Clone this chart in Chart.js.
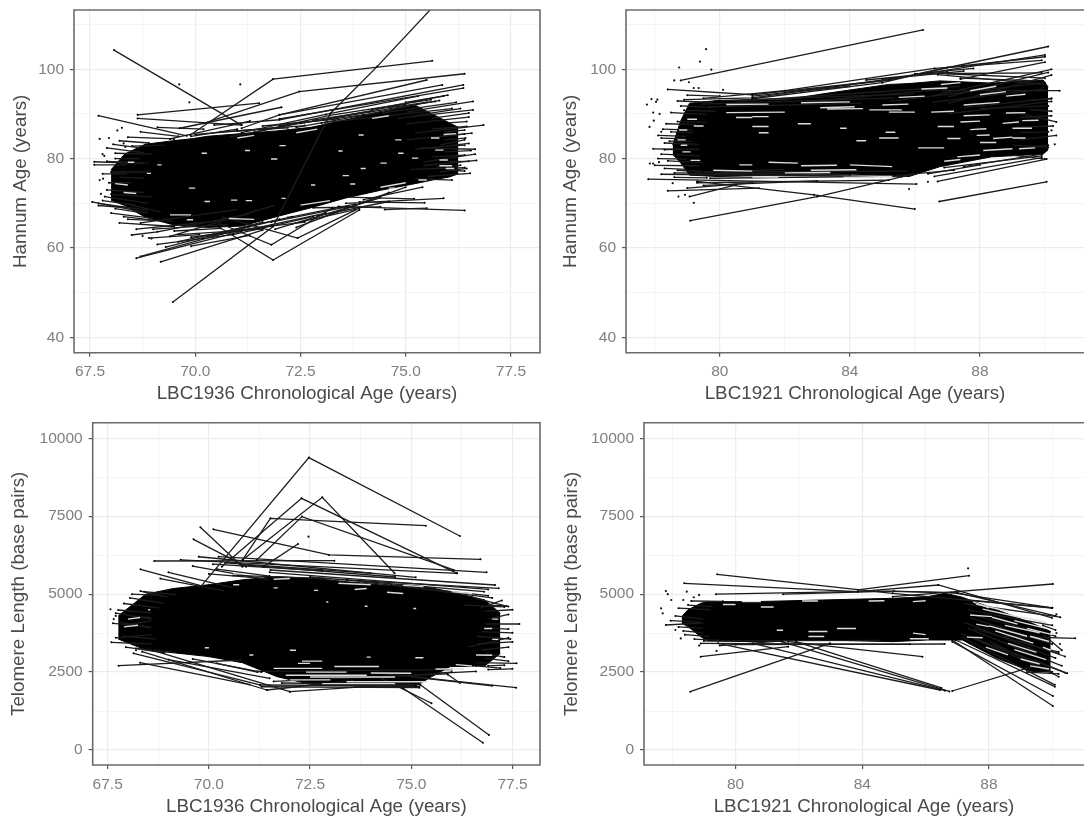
<!DOCTYPE html>
<html><head><meta charset="utf-8">
<script src="https://cdn.jsdelivr.net/npm/chart.js@4"></script>
<style>
html,body{margin:0;padding:0;background:#fff;width:1088px;height:820px;overflow:hidden}
canvas{position:absolute;filter:blur(0.5px)}
</style></head><body>
<canvas id="a" width="544" height="410" style="left:0;top:0"></canvas>
<canvas id="b" width="544" height="410" style="left:544px;top:0"></canvas>
<canvas id="c" width="544" height="410" style="left:0;top:410px"></canvas>
<canvas id="d" width="544" height="410" style="left:544px;top:410px"></canvas>
<script>
// ---------- tick labels ----------
const ticks1936 = [67.5,70,72.5,75,77.5];
const minor1936 = [68.75,71.25,73.75,76.25];
const ticks1921 = [80,84,88];
const minor1921 = [78,82,86,90];
const ticksHannum = [40,60,80,100];
const minorHannum = [50,70,90,110];
const ticksTelomere = [0,2500,5000,7500,10000];
const minorTelomere = [1250,3750,6250,8750];

// ---------- Hannum age, LBC1936 ----------
const bandAgeA = [68,68.32,68.81,69.47,69.96,70.29,71.11,71.93,72.75,73.58,74.4,75.22,75.63,76.04,76.25];
const bandTopA = [77.5,81,83.2,84,84.5,85,85.6,86.2,87,88.7,90.3,92,90,88,87];
const bandLowA = [70.7,69.5,66.9,65.2,64.8,64.6,64.9,67,69,71.2,72.9,74.4,75.2,75.9,76.6];
const linesA = [
 [68.07,104.3,71.1,87.5],[69.47,47.9,71.85,64.8,73.21,90.1,74.32,100.6,75.65,114],
 [67.7,89.6,69.8,85.1],[68.63,89.8,71.52,92.4],[68.63,89,71.1,87.5],
 [69.88,85.3,71.85,97.8,75.63,101.9],[70.2,87.9,72.47,95,76.4,99],[69.63,86.8,72.05,91.5],
 [71.1,86.8,72,89.8,75.5,97.6],[72,89.8,75.87,96.5],[70.45,87.5,72,88.7,76.37,96.5],
 [72,88.9,76.37,95.8],[71.1,85.8,73.1,89.9,75.3,94],[71.4,85.9,73.2,89.7,75.6,93.2],
 [72.5,87.9,75.7,92.8],[73,88,76.1,91.2],[69.4,84.4,71.3,88.4],[70.8,84.8,72.6,88.1],
 [72,87.4,74,89.8],[72.4,87,74.4,90.4],[71,86.2,72.6,87.4],[73.2,89,75,92.2],[73.8,89.4,75.5,92.6],[69.9,85,71,86.6],
 [70,85.4,72,87],[70.6,86,72.2,86.9],[71.6,87.3,73.4,88.9],[72.8,88.6,74.2,90.6],[74.2,91,75.9,94],[74.6,91.4,75.8,93],[75,92.6,76,94.2],
 [74.4,90.2,76.2,92.6],[75,90.4,76.6,92.8],[74.8,89,76.6,90.9],[75,87.8,76.5,89.3],[75.2,89.6,76.3,91.2],[75.6,89,76.5,90.2],
 [75.2,85.7,76.85,87.5],[75,84.2,76.57,85.7],[75.2,82,76.5,83.4],[75.3,82.4,76.65,82.1],[75.6,86.6,76.45,87.2],[75.8,83,76.4,84.2],
 [75.4,79.2,76.65,81],[75.4,78.4,76.68,79.6],[75.5,76,76.53,76.7],[75.6,80.4,76.4,80.8],[75.8,77,76.45,77.8],
 [75.8,84.9,76.4,85.5],[75.7,78.1,76.3,78.5],[75.2,75.5,76.1,75.2],[75.1,77.6,76.4,78],[75.9,81.5,76.55,81.8],
 [75.9,86,76.4,86.4],[76,88,76.45,88.3],[76,79.3,76.5,79.4],[76,82.8,76.4,83],[76.1,77.4,76.4,77.2],[75.9,84.2,76.42,84.6],
 [70.54,64.8,71.85,57.3,73.9,68.5],[70.4,66.2,71.81,60.7,73.25,68.9],[70.62,67,72.43,62.2,73.9,68.9],
 [68.6,57.7,71.1,63.7],[68.7,58.1,71.28,64.8],[69.18,56.9,71.6,64],[68.49,62.9,69.1,63.6,71.3,67.6],
 [69.4,62.6,71.9,69.6],[69.6,61.4,72,66.4],[68.7,65.6,71,68.6],[68.6,64.2,70.2,65.7],[69.3,60.2,71.6,65.8],
 [69.9,62.4,71.5,64.4],[70.6,63.2,72.3,67],[69,64.2,70.8,65.3],[68.4,66.4,69.5,66],[69.5,63.8,70.6,64.4],[71,64,72.6,65.8],
 [69.1,60.8,70.9,63],[69.9,60.4,71.3,62.8],[70.3,62.6,71.8,65],[70.9,63,72.8,67],[71.4,64.4,73.1,67.8],[69.6,63,71.6,64.2],[68.9,62.2,70.1,63],[72.3,65.4,73.8,68.6],[71.8,65.8,73.6,69.2],[72.9,67.2,74.6,70.4],
 [73.4,69.3,76.4,68.4],[73.58,70,75.9,71.1],[73.9,70.3,75.45,70.1],[74.5,68.6,75.5,68.9],[73.6,71.4,75.2,71],[72.8,69,74.4,69.2],
 [71.9,64.2,74.4,71.2],[72.4,64.6,74.6,72.4],[73,66.8,75,73.6],[74,70.8,75.4,73.6],[72.2,66.8,73.8,69.8],
 [67.6,79.3,68.8,78.9],[67.55,70.3,68.9,67.8],[67.7,70,68.9,68.4],[67.9,82.4,68.8,81.3],[67.6,78.6,68.4,78.6],
 [68.4,84.8,69.5,84.4],[67.85,71.5,68.9,70],[67.9,79.4,68.9,79],[68,77,68.9,77],[68,67.8,69,66.6],
 [68.1,81.2,69,81],[67.9,73,68.8,72.4],[68.3,70,69.2,68],[68.2,65.6,69.5,64.8],[68,72,69,71.4],
 [68.2,75.8,68.8,75.6],[68.5,82.8,69.3,83],[68.7,86,69.6,85],[69.1,87,70.2,86.6],[68.05,83.2,68.7,82.4],[68.2,84,68.9,83.5],
 [67.95,74.6,68.5,74.6],[67.8,76.6,68.4,76.6],[68.1,80,68.7,80],[67.8,70.6,68.6,69.6],[68.1,68.8,68.8,67.8],[68.3,67,69.2,66],[67.7,69.5,68.4,69]
];
const gapsA = [
 [68.1,74.4,68.4,74.1],[69.85,73.4,70,73.4],[71.8,79.9,71.95,79.9],[73.5,76.2,73.65,76.2],[73.4,81.7,73.5,81.7],
 [73.88,85.3,74,85.3],[74.4,79,74.55,79],[75.15,80.1,75.3,80.1],[75.7,81.9,75.9,81.9],[75.6,84.6,75.8,84.6],
 [70.22,70.4,70.35,70.4],[70.85,70.7,71,70.7],[71.2,70.6,71.35,70.6],[69.8,66.3,69.95,66.3],[72,82.9,72.15,82.9],
 [74.75,84.2,74.9,84.2],[74.82,81.2,74.95,81.2],[73.93,77.8,74.05,77.8],[72.75,74.1,72.85,74.1],[73.68,74.3,73.8,74.3],
 [71.18,81.8,71.3,81.8],[70.15,81.2,70.28,81.2],[74.6,73.4,74.75,73.4],[75.3,75.2,75.5,75.2],[75.8,79.7,76,79.7],
 [75.95,77.8,76.15,77.8],[68.85,76.7,68.95,76.7],[69.1,78.6,69.2,78.6],[72.05,71.1,72.15,71.1],
 [71,84.6,71.4,85.2],[72.4,85.8,72.9,86.6],[74.2,89,74.6,89.6],[69.4,67.4,69.9,67.4],[70.8,66.6,71.4,66.4],[72.5,69.6,73.2,70.6],
 [74.4,73.6,75,74.6],[75.8,78.4,76.1,78.4],[68.3,72.4,68.6,72.2],[68.4,79.2,68.55,79.2],[75.9,85.4,76.2,85.6]
];
const dotsA = [69.62,96.6,71.07,96.6,69.86,92.6,68.26,86.9,68.15,86.3,67.73,84.4,67.95,84.6,67.8,81,67.84,80.6,67.73,75.2,67.81,75.5,67.76,72.1,68.75,62.7,68.96,62.1,68.3,83.4,68.34,82.6];

// ---------- Hannum age, LBC1921 ----------
const bandAgeB = [78.55,78.8,79.07,79.92,82.03,83.08,85.19,85.82,86.77,88.36,89.94,90.1];
const bandTopB = [83,88.5,92.4,93,93.2,94.4,96.6,96.8,97.4,96.9,97.6,96];
const bandLowB = [81,79,76.3,76,76.3,76.7,76.3,76,78.2,80.4,81,82];
const linesB = [
 [78.8,97.5,86.25,108.8],[78.4,95.5,81,94.3,85.2,97.6,90.1,105.1],[78.9,93.2,81,93.6,85.4,98,90,103.2],
 [79.5,93.5,82,95.2,86.6,100.2,89.9,102],[81,93.4,85,97,87,100.4,90,102.8],[86,99,89.9,99.2],[86.7,98.8,90,96.6],
 [87.4,97.8,90,101.6],[86.5,94,90.2,100],[87,93.8,90.1,99.3],[87,92.3,90.2,98.7],[86.8,95.2,90.45,95.2],
 [80,93,86,94.5],[79.4,92.2,85.4,93.6],[79.6,91.6,84.4,92.4],[80.5,92.8,87.4,96.2],[83,93,87,95.6],
 [85.2,92.8,90,97],[86.5,92.6,90,95.6],[87.5,91.4,90.2,93.5],[87,90,90.2,92.8],[88,91.2,90.1,91.8],
 [81,94,84,96.2],[82,94.8,85,97.4],[85,97.8,87.5,99.6],[84.5,97.6,87,99.4],[86.3,99.2,87.8,100.2],[87,99,90,98],[87.4,98,89.8,97.4],
 [79.09,66.1,83,71.5,86.05,76.7],[79.3,74.9,82.9,71.9,86,68.7],[86.75,70.4,90.05,74.8],[86.7,74.9,90.05,79.9],
 [78.4,72.8,81.2,73.4],[79.07,71.5,80.5,74.1],[77.8,75.4,86.05,74.3],[79.3,74.6,85.2,75.2],[78.2,76.5,85.6,76],
 [78.6,76.8,84,76.4],[79.7,75.6,85.8,76.1],[80,77,85.8,77.2],[79.5,77,82,77.6],[86.6,76,89.9,80.2],[87.5,78.2,89.9,81],
 [85.4,76.2,87.2,77.4],[86.9,78,89.9,80.6],[86.4,76.6,88,78.6],[79,73.4,81,74.6],[79.5,74,83,75],
 [78.5,90.3,79.6,89.9],[78.3,83.5,79.4,83.2],[78.2,81,79.4,80.6],[78,78.5,79.4,78.4],[78.3,82,79.4,82.1],[78.7,92.9,79.8,92.6],
 [78.8,91.8,79.8,91.5],[78.5,86,79.2,85.8],[78.1,85.2,79,85],[78.4,79.5,79.5,79.1],[78.7,77.4,79.8,77],[78.7,88.3,79.6,88.1],
 [78.2,84.6,79,84.4],[78.25,86.6,79.2,86.4],[78.35,87.8,79.3,87.6],[77.95,82.2,78.8,82.1],[78.1,80,79,79.9],[78.3,77.8,79,77.6],[78.6,75.8,79.6,75.7],
 [78.9,90.8,79.9,90.6],[79,94.2,80,94],[78.45,83.9,79.2,83.8],
 [89,90.5,90.35,88.2],[89.2,84.2,90.35,85.2],[89.1,87,90.25,87.3],[89,83,90.1,82.5],[89.2,89.2,90.2,89.6],[89,80.8,90,79.9],
 [89.4,93,90.2,93.4],[89.5,91,90.2,90.6],[89.2,85.8,90.1,86],[89.5,82.6,90.1,83]
];
const gapsB = [
 [83.09,91.4,84.15,91.6],[83.3,91.1,84.4,91.2],[84.6,90.9,85.6,90.9],[85.2,90.4,86,90.4],[84.9,84.6,85.5,84.6],[84.2,84,84.5,84],
 [81,89.4,81.5,89.4],[80.5,89.2,81,89.2],[81,87.2,81.5,87.2],[82.4,87.8,82.8,87.8],[85.1,85.9,85.4,85.9],[81.2,85.8,81.5,85.8],
 [79.2,87.3,79.5,87.3],[83.7,86.8,83.9,86.8],[86.7,87.2,87.2,87.2],[87.4,88.2,88,88.4],[88.4,84.5,89,84.8],[87,84.5,87.4,84.5],
 [88,83.6,88.5,83.6],[86.1,82.4,86.9,82.4],[88.8,90.2,89.4,90.3],[87.7,86.5,88.2,86.7],[89,86.8,89.6,86.8],[88.1,81.8,89,82.2],
 [89,84.6,89.4,84.6],[87.3,80.4,88,80.8],[86.9,79.4,87.4,79.8],[81.5,79.2,82.4,79],[82.5,78.4,83.6,78.5],[84,78.6,85.3,78.2],
 [80.6,78.6,81,78.6],[86.5,90.4,87.2,90.6],[87.5,92,88.6,92.6],[82.5,92.5,84,92.7],[85,92,85.8,92.2],[80.2,92.1,81.5,92.2],
 [88,94.3,88.8,95],[85.5,93.7,86.3,94],[82,76.8,83.4,76.9],[83.8,75.8,85.3,76],[81,75.9,81.8,75.9],[86.2,95.6,87,95.8],
 [87.7,95.2,88.5,96.2],[86.8,96.6,87.4,97],[88.8,94,89.4,94.4],[80.2,90.3,82,90.4],[79.8,77.4,81,77.2],[82.8,77.4,84.2,77.5],
 [88.7,87.9,89.2,88.2],[87.5,89.6,88.3,89.8],[89.3,88.5,89.8,88.6],[87.9,85.2,88.3,85.3],[89.2,82.2,89.7,82.4],
 [78.7,84.2,78.95,84.2],[78.85,81.5,79.1,81.5],[78.75,86.4,79,86.4],[79,88.8,79.3,88.8],[79.1,79.6,79.4,79.6],[78.8,83,79,83]
];
const dotsB = [79.58,104.5,79.39,101.7,78.75,100.4,79.74,99.9,78.6,97.5,79.05,97.1,79.2,95.8,79.35,95.8,80.1,95.4,77.76,92.1,78.08,93.2,78.04,92.7,77.9,93.3,77.95,90.3,77.97,88.5,78.15,90,77.84,87.1,78.2,86,78.55,74.5,78.73,71.5,78.93,71.9,79.2,70.1,85.82,73.2,86.4,74.8,77.85,78.9,77.95,78.9,78.13,79.2,90.2,86.3,90.3,83.2];

// ---------- Telomere length, LBC1936 ----------
const bandAgeC = [67.76,68.44,69.12,69.98,70.83,71.69,72.54,73.4,74.25,75.11,75.5,75.96,76.82,77.2];
const bandTopC = [4300,5000,5180,5300,5460,5561,5508,5401,5294,5240,5200,5080,4813,4385];
const bandLowC = [3560,3209,3120,3000,2800,2350,2100,2060,2050,2050,2350,2674,2700,3100];
const linesC = [
 [69.8,5240,72.47,9380,76.2,6866],[70.32,5882,72.29,8075,76.13,5668],[70.83,6096,72.8,8107,74.59,5668],
 [70.83,6096,71.52,7433,75.36,7198],[71.18,6096,72.3,7487,76.05,5775],[71.35,5882,72.2,6610],[69.79,7144,70.83,5882],
 [69.62,6759,70.92,5882],[70.11,7080,72.97,6257,76.71,6118],[68.65,6064,73.1,6075],[68.31,5797,69.89,5240],
 [69.3,6100,76.13,5668],[70.24,6203,76.86,5700],[69.75,6200,75.11,5540],[71.52,5775,77.07,5294],[73.4,5454,77.16,5187],
 [68.8,5500,70.4,5100],[69,5700,70.6,5200],[69.6,5900,71.5,5450],[70.1,5960,72.8,5750],[70.4,6000,74,5670],[70.8,5950,74.6,5550],
 [71.5,5700,76.9,5150],[72.5,5550,76.8,5080],[73.7,5400,76.9,4950],[70,5650,71.4,5500],[74.5,5300,77,4880],[70.2,5800,71.5,5580],[70.6,5600,73,5500],
 [67.77,2706,70.83,2888],[68.14,3102,71.26,2086],[68.35,3155,71.43,1925],[68.61,3200,72,1872],[68.3,2800,71,2100],
 [69,2900,71.5,2300],[69.6,2920,71.3,2500],[70.2,2780,71.2,2500],
 [74.25,2460,77.59,2000],[74.8,1979,76.77,235],[75.23,2086,76.92,481],[74.2,2340,75.5,1500],
 [71.26,2086,75.1,2060],[71.43,1925,73.6,2230],[72,1872,75,2130],[71.6,2200,75.9,2440],[71.2,2520,76,2580],
 [71.8,2150,75.2,2100],[75,2350,77,2060],[75.9,2420,76.2,2150],[71.3,2030,75.2,2000],[73.6,2020,75.2,2030],[74.8,2380,76,2500],[75.4,2440,76.6,2520],
 [67.76,4492,68.6,4400],[67.63,4064,68.6,3950],[67.59,3454,68.6,3400],[68.31,5100,69,4900],[67.7,4390,68.6,4200],[67.85,3660,68.7,3560],
 [67.9,4700,68.8,4550],[67.95,3300,68.9,3120],[68.05,4880,68.9,4700],[67.8,4100,68.6,3900],[68.2,3260,69.1,3150],[68,4300,68.6,4250],
 [67.7,3600,68.6,3700],[68.1,5000,68.9,4950],[67.9,4000,68.6,4150],[68.4,5080,69.2,4980],
 [76.7,4550,77.24,4800],[76.3,4650,77.3,4590],[76.82,4043,77.67,4043],[76.6,3400,77.5,3467],[76.6,2800,77.6,2780],[76.9,2580,77.5,2605],
 [76.5,4900,77.4,4600],[76.8,3100,77.3,2980],[76.7,3800,77.5,3760],[76.9,4200,77.4,4350],[76.8,2950,77.4,2850],[76.4,3300,77.4,3600],
 [76.7,3200,77.4,3300],[76.8,4450,77.5,4500],[76.9,2700,77.3,2720],[76.6,3650,77.45,3560],[76.6,2700,77.2,2630],[77,3900,77.4,3880],[76.9,4650,77.35,4620]
];
const gapsC = [
 [68.5,4500,68.55,4500],[70.6,5300,70.75,5300],[71.6,5200,71.7,5200],[72.6,5120,72.7,5120],[72.9,4750,72.95,4750],[73.85,4610,73.92,4610],
 [75.05,4540,75.12,4540],[73.6,5150,73.9,5180],[74.4,5060,74.8,5020],[72,3200,72.15,3200],[72.3,2850,72.8,2850],[71,3050,71.1,3050],
 [69.9,3280,70,3280],[73.9,2980,74,2980],[75.1,2960,75.3,2960],[77,4200,77.15,4200],[77,3550,77.15,3550],
 [76.8,3900,77,3900],[70.6,5650,70.85,5650],[71.6,5480,72,5500],[73.2,5350,74,5300],[74.8,5280,75.3,5240],[76,5080,76.5,5020],
 [76.6,3050,77,3040],[76.1,2740,76.5,2700],[72.2,2780,72.5,2780],[73.1,2680,74.2,2680],[75.6,2600,76.3,2600],
 [71.9,2400,73.9,2400],[72.5,2340,74.6,2340],[73.4,2190,75.4,2190],[72,2250,73,2250],[71.6,2620,72.8,2620],
 [72.8,2130,74.6,2130],[72.4,2500,73.4,2500],[74,2470,75,2460],[67.9,3950,68.25,4000],[68,4200,68.3,4250]
];
const dotsC = [67.57,4513,72.46,6845,67.65,4200,67.7,4300,68.2,3200];

// ---------- Telomere length, LBC1921 ----------
const bandAgeD = [78.3,78.5,78.9,79.12,80.55,82.75,84.96,86.06,86.61,87.16,88.26,89.37,89.95];
const bandTopD = [4278,4500,4706,4759,4759,4813,4866,4920,5027,4900,4492,4064,3800];
const bandLowD = [4064,3957,3636,3500,3476,3529,3476,3529,3529,3529,2941,2513,2500];
const linesD = [
 [79.42,5636,84.96,5027,89.99,4556],[78.38,5348,83.86,5080,86.4,5294,89.99,4235],[83.86,5134,87.37,5593],[84.96,4920,90.02,5326],
 [79.38,5000,84.5,5100,86.8,5050,90,4560],[81.5,5000,85,5100,87,5040],[78.57,1872,82.98,3422],[78.9,2995,81.66,3315],
 [81.66,3476,85.9,2995],[79.45,3422,86.45,1925],[80.55,3420,86.61,1904],[81.45,3480,86.75,1880],[81.9,3480,86.5,1990],
 [86.84,1893,89.37,2674],[86.84,3529,90.02,1412],[86.84,3476,90.02,1733],[86.95,3529,90.08,2032],[87.1,3640,90.08,2090],
 [87.5,3600,90.47,2460],[87,4850,90,4560],[87.2,4700,90.25,4260],[87.3,4500,90,4000],[87,5050,90.1,4300],[87.4,4250,90,3400],
 [87.4,4350,90.1,3650],[87.5,3900,90.2,3100],[87.2,4100,90.1,2950],[87.1,3750,90,2500],[87.3,3920,90.3,2700],[88,3500,90.2,2350],
 [88.4,3650,90.72,3583],[78.9,3420,85.5,3390],[79,3500,84.6,3520],[79.5,3350,81.5,3500],[80,3380,86.6,3400],
 [89,3500,90.4,3000],[89.4,2900,90.4,2480],[89.6,3800,90.3,3200],[89.2,2500,90.2,2440],[89.5,3300,90.2,3150],[89.7,4000,90.1,3850],
 [77.8,4010,79,4080],[78.1,4300,79,4200],[78.2,4550,79.2,4500],[78.35,3820,79,3760],[78.2,3950,79,3900],[78.5,4650,79.3,4600],[77.95,4150,78.9,4100],
 [78.4,3700,79.2,3640],[78.7,3560,79.5,3520],[78.6,4780,79.6,4770]
];
const gapsD = [
 [80.2,4760,80.8,4760],[82.1,4780,82.6,4780],[80.8,4590,81.2,4590],[79.6,4670,80,4670],[83.2,3900,83.8,3900],[82.3,3800,82.9,3800],
 [81.3,3840,81.5,3840],[82.3,3640,82.8,3640],[85.6,3750,86,3700],[85.5,3570,86.1,3570],[84.2,4780,84.7,4790],[85.6,4760,86,4790],
 [87.6,4680,88.6,4450],[87.8,4520,89,4250],[87.4,4330,88.1,4280],[88,3980,89.2,3650],[88.2,3820,89.4,3430],[88.5,4000,89.6,3760],
 [89,4270,89.8,4100],[88.6,3420,89.5,3130],[89.3,3650,89.9,3480],[89,2920,89.6,2760],[87.6,4040,88,3960],[89.7,3300,89.95,3200],[87.3,3620,87.8,3600],
 [88.8,3220,89.8,2900],[89.2,3900,90,3700],[87.9,3300,88.6,3050],[88.8,4150,89.8,3900],[87.5,4750,88,4560],[89.3,2700,89.9,2600],[88.1,4260,88.9,4040]
];
const dotsD = [77.8,5100,77.86,5000,77.97,4813,77.65,4545,77.7,4385,78.35,4813,78.46,5080,78.68,4900,78.85,4975,78.85,3350,79.4,3180,87.34,5829,78.27,3580,78.1,3850,90.13,4350,90.24,3400,90.13,3750];

// ---------- drawing ----------
const FONT = '"Liberation Sans",Arial,sans-serif';
const frame = {id:'frame', afterDraw(ch, _a, o){
  const {left:l,right:r,top:t,bottom:b} = ch.chartArea, c = ch.ctx;
  c.save(); c.strokeStyle='#6b6b6b'; c.lineWidth=1.6; c.beginPath();
  if(o.openRight){ c.moveTo(r,t); c.lineTo(l,t); c.lineTo(l,b); c.lineTo(r,b); }
  else c.rect(l,t,r-l,b-t);
  c.stroke(); c.restore();
}};
function toPts(f){ const p=[]; for(let i=0;i<f.length;i+=2) p.push({x:f[i],y:f[i+1]}); return p; }
function noPad(s){ s.paddingTop=0; s.paddingBottom=0; s.paddingLeft=0; s.paddingRight=0; }
function axis(kind, min, max, major, minor, title, titlePad, extra){
  const frac = major.some(m=>m%1);
  return Object.assign({type:'linear', min, max,
    afterBuildTicks(s){ s.ticks=[...major,...minor].sort((a,b)=>a-b).map(v=>({value:v})); },
    ticks:{autoSkip:false, maxRotation:0, color:'#7f7f7f', font:{family:FONT,size:15.5},
      padding:6,
      callback:v=>major.includes(v)?(frac?v.toFixed(1):String(v)):''},
    grid:{drawOnChartArea:true, tickLength:4,
      color:c=>major.includes(c.tick.value)?'#ececec':'#f3f3f3',
      lineWidth:c=>major.includes(c.tick.value)?1.2:0.9,
      tickColor:c=>major.includes(c.tick.value)?'#555':'rgba(0,0,0,0)'},
    border:{display:false},
    title:{display:true,text:title,color:'#4a4a4a',padding:{top:titlePad,bottom:titlePad},
      font:{family:FONT,size:18.8}}
  }, extra);
}
function panel(id,cfg){
  const ds=[
    {data:cfg.age.map((x,i)=>({x,y:cfg.top[i]})),fill:'+1',backgroundColor:'#000',borderColor:'#000',borderWidth:1,pointRadius:0,showLine:true,order:5},
    {data:cfg.age.map((x,i)=>({x,y:cfg.low[i]})),fill:false,borderColor:'#000',borderWidth:1,pointRadius:0,showLine:true,order:5}
  ];
  cfg.lines.forEach(f=>ds.push({data:toPts(f),showLine:true,borderColor:'#1c1c1c',borderWidth:1.3,pointRadius:1,pointBackgroundColor:'#000',pointBorderWidth:0,order:3}));
  cfg.gaps.forEach(f=>ds.push({data:toPts(f),showLine:true,borderColor:'#dcdcdc',borderWidth:1.4,pointRadius:0,order:2}));
  ds.push({data:toPts(cfg.dots),showLine:false,pointRadius:1.1,pointBackgroundColor:'#111',pointBorderWidth:0,order:1});
  new Chart(document.getElementById(id),{type:'scatter',data:{datasets:ds},plugins:[frame],options:{
    responsive:false,animation:false,
    layout:{padding:cfg.pad},
    plugins:{legend:{display:false},tooltip:{enabled:false},frame:{openRight:cfg.open}},
    scales:{
      x:axis('x',cfg.xr[0],cfg.xr[1],cfg.xt,cfg.xm,cfg.xl,cfg.xp,{afterFit(s){s.height=cfg.xh;noPad(s);}}),
      y:axis('y',cfg.yr[0],cfg.yr[1],cfg.yt,cfg.ym,cfg.yl,cfg.yp,{afterFit(s){s.width=cfg.yw;noPad(s);}})
    }
  }});
}
panel('a',{age:bandAgeA,top:bandTopA,low:bandLowA,lines:linesA,gaps:gapsA,dots:dotsA,
  xr:[67.12,78.19],yr:[36.55,113.27],xt:ticks1936,xm:minor1936,yt:ticksHannum,ym:minorHannum,
  xl:'LBC1936 Chronological Age (years)',yl:'Hannum Age (years)',pad:{top:10,right:2},xh:57.3,yw:74,xp:4.7,yp:9.7,open:false});
panel('b',{age:bandAgeB,top:bandTopB,low:bandLowB,lines:linesB,gaps:gapsB,dots:dotsB,
  xr:[77.116,91.2],yr:[36.55,113.27],xt:ticks1921,xm:minor1921,yt:ticksHannum,ym:minorHannum,
  xl:'LBC1921 Chronological Age (years)',yl:'Hannum Age (years)',pad:{top:10,right:0},xh:57.3,yw:82,xp:4.7,yp:15.7,open:true});
panel('c',{age:bandAgeC,top:bandTopC,low:bandLowC,lines:linesC,gaps:gapsC,dots:dotsC,
  xr:[67.13,78.18],yr:[-481,10500],xt:ticks1936,xm:minor1936,yt:ticksTelomere,ym:minorTelomere,
  xl:'LBC1936 Chronological Age (years)',yl:'Telomere Length (base pairs)',pad:{top:12.7,right:2},xh:55,yw:92.7,xp:2,yp:7.7,open:false});
panel('d',{age:bandAgeD,top:bandTopD,low:bandLowD,lines:linesD,gaps:gapsD,dots:dotsD,
  xr:[77.11,91],yr:[-481,10500],xt:ticks1921,xm:minor1921,yt:ticksTelomere,ym:minorTelomere,
  xl:'LBC1921 Chronological Age (years)',yl:'Telomere Length (base pairs)',pad:{top:12.7,right:0},xh:55,yw:100,xp:2,yp:16.7,open:true});
</script>
</body></html>
